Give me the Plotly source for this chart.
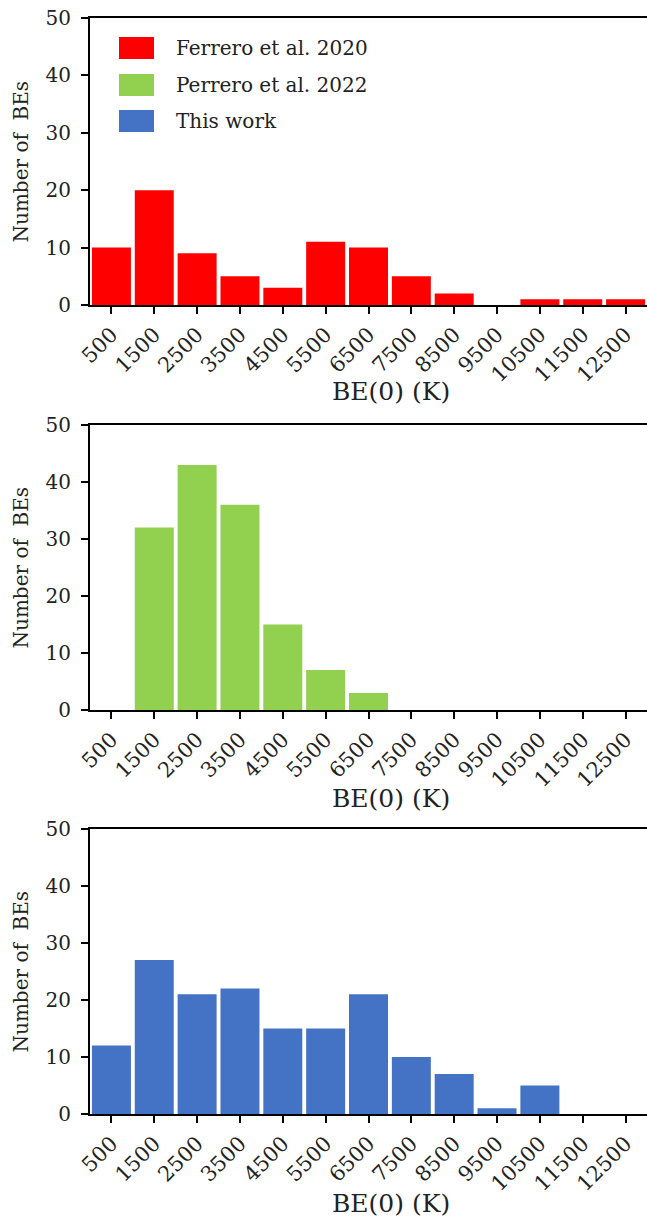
import plotly.graph_objects as go

categories = ["500", "1500", "2500", "3500", "4500", "5500", "6500",
              "7500", "8500", "9500", "10500", "11500", "12500"]
ferrero_2020 = [10, 20, 9, 5, 3, 11, 10, 5, 2, 0, 1, 1, 1]
perrero_2022 = [0, 32, 43, 36, 15, 7, 3, 0, 0, 0, 0, 0, 0]
this_work = [12, 27, 21, 22, 15, 15, 21, 10, 7, 1, 5, 0, 0]
series_names = ["Ferrero et al. 2020", "Perrero et al. 2022", "This work"]
series_colors = ["#FF0000", "#92D050", "#4472C4"]
y_ticks = [0, 10, 20, 30, 40, 50]
x_title = "BE(0) (K)"
y_title = "Number of  BEs"

W, H = 647, 1220
L = 90
PW = W - L
FONT = "DejaVu Serif"

# panel pixel extents (top, bottom)
panels_px = [(18, 305), (425, 710), (829, 1114)]
xtitle_px = [391, 798, 1203]

def py(p):
    return 1 - p / H

def px(p):
    return (p - L) / PW

fig = go.Figure()
all_series = [ferrero_2020, perrero_2022, this_work]
for i, (vals, name, col) in enumerate(zip(all_series, series_names, series_colors)):
    sfx = "" if i == 0 else str(i + 1)
    fig.add_trace(go.Bar(
        x=categories, y=vals, name=name, marker_color=col,
        marker_line_width=0, showlegend=False,
        xaxis="x" + sfx, yaxis="y" + sfx,
    ))
    top, bot = panels_px[i]
    axis_common = dict(showline=True, linecolor="black", linewidth=2,
                       ticks="outside", ticklen=7, tickwidth=2, tickcolor="black",
                       showgrid=False, zeroline=False, automargin=False,
                       tickfont=dict(family=FONT, size=20, color="#222"))
    fig.layout["xaxis" + sfx] = dict(
        axis_common, domain=[0, 1], anchor="y" + sfx, type="category",
        range=[-0.5, 12.5], tickangle=-45, mirror=True,
        categoryorder="array", categoryarray=categories,
        tickfont=dict(family=FONT, size=21, color="#222"),
    )
    fig.layout["yaxis" + sfx] = dict(
        axis_common, domain=[py(bot), py(top)], anchor="x" + sfx,
        range=[0, 50], tickvals=y_ticks, ticklabelstandoff=6,
    )
    fig.add_annotation(xref="paper", yref="paper", x=px(391), y=py(xtitle_px[i]),
                       text=x_title, showarrow=False, xanchor="center", yanchor="middle",
                       font=dict(family=FONT, size=25, color="#222"))
    fig.add_annotation(xref="paper", yref="paper", x=px(20), y=py((top + bot) / 2),
                       text=y_title, showarrow=False, textangle=-90,
                       xanchor="center", yanchor="middle",
                       font=dict(family=FONT, size=20, color="#222"))

# legend drawn inside the first panel
leg_rows = [48, 85, 121]
for name, col, yc in zip(series_names, series_colors, leg_rows):
    fig.add_shape(type="rect", xref="paper", yref="paper",
                  x0=px(119), x1=px(154), y0=py(yc + 11), y1=py(yc - 11),
                  fillcolor=col, line_width=0)
    fig.add_annotation(xref="paper", yref="paper", x=px(174), y=py(yc),
                       text=name, showarrow=False, xanchor="left", yanchor="middle",
                       font=dict(family=FONT, size=20, color="#222"))

fig.update_layout(
    width=W, height=H, bargap=0.09,
    margin=dict(l=L, r=0, t=0, b=0, autoexpand=False),
    plot_bgcolor="white", paper_bgcolor="white",
    font=dict(family=FONT),
)
fig.write_html(
    "out.html",
    config={"displayModeBar": False},
    post_script="document.body.style.margin='0';document.body.style.overflow='hidden';",
)
